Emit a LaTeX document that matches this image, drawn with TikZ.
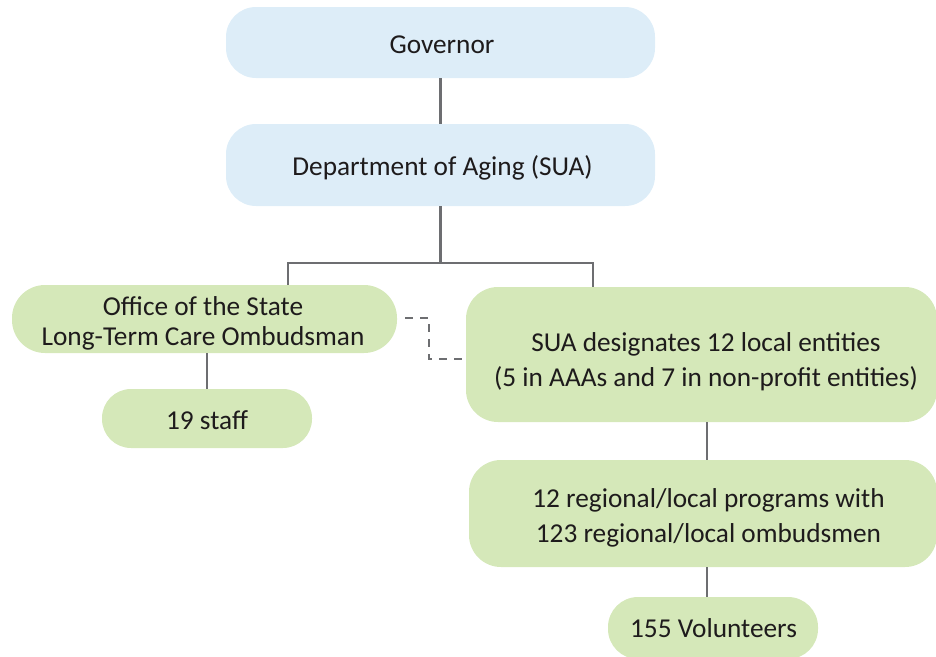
\documentclass[tikz,border=0pt]{standalone}
\usepackage{fontspec}
\setmainfont{Carlito}
\definecolor{bluebox}{HTML}{DDEDF8}
\definecolor{greenbox}{HTML}{D5E8B9}
\definecolor{linegray}{HTML}{6D6E71}
\definecolor{txtc}{HTML}{1E1B1C}
\begin{document}
\begin{tikzpicture}[x=1pt,y=-1pt,
  boxbase/.style={rectangle, inner sep=0pt, draw=none, rounded corners=#1},
  bluebox/.style={boxbase=30pt, fill=bluebox},
  greenbox/.style={boxbase=#1, fill=greenbox},
  txt/.style={align=center, text=txtc, inner sep=0pt, font=\fontsize{27.3}{35}\selectfont},
  txttight/.style={txt, font=\fontsize{27.3}{30}\selectfont},
  conn/.style={draw=linegray, line width=2.2pt},
  dconn/.style={draw=linegray, line width=2.5pt, dash pattern=on 8pt off 7pt}]
\useasboundingbox (0,0) rectangle (936,656);
\clip (0,0) rectangle (936,656);
% boxes
\node[bluebox, minimum width=429pt, minimum height=71pt] (gov) at (440.5,42.5) {};
\node[bluebox, minimum width=429pt, minimum height=82pt] (dept) at (440.5,165) {};
\node[greenbox=33pt, minimum width=385pt, minimum height=68pt] (office) at (204.5,319) {};
\node[greenbox=29pt, minimum width=210pt, minimum height=59pt] (staff) at (207,418.5) {};
\node[greenbox=32pt, minimum width=471pt, minimum height=135pt] (sua) at (701.5,354.5) {};
\node[greenbox=32pt, minimum width=468pt, minimum height=107pt] (reg) at (703,513.5) {};
\node[greenbox=30pt, minimum width=210pt, minimum height=62pt] (vol) at (713,628) {};
% texts
\node[txt] (tgov) at (442,45) {Governor};
\node[txt] (tdept) at (442.5,168) {Department of Aging (SUA)};
\node[txttight] (toffice) at (203,323.5) {Office of the State\\Long-Term Care Ombudsman};
\node[txt] (tstaff) at (207,420) {19 staff};
\node[txt] (tsua) at (706,362) {SUA designates 12 local entities\\(5 in AAAs and 7 in non-profit entities)};
\node[txt] (treg) at (708.5,518) {12 regional/local programs with\\123 regional/local ombudsmen};
\node[txt] (tvol) at (713.5,628) {155 Volunteers};
% connectors
\coordinate (bl) at (288,263);
\coordinate (br) at (593,263);
\coordinate (vx) at (707,0);
\draw[conn] (gov.south) -- (dept.north);
\draw[conn] (dept.south) -- (dept.south |- bl);
\draw[conn] (bl |- office.north) -- (bl) -- (br) -- (br |- sua.north);
\draw[conn] (staff.north |- office.south) -- (staff.north);
\draw[conn] (vx |- sua.south) -- (vx |- reg.north);
\draw[conn] (vx |- reg.south) -- (vx |- vol.north);
\coordinate (d0) at (405,318);
\coordinate (d1) at (429,318);
\coordinate (d2) at (429,359);
\draw[dconn] (d0) -- (d1) -- (d2) -- (d2 -| sua.west);
\end{tikzpicture}
\end{document}
